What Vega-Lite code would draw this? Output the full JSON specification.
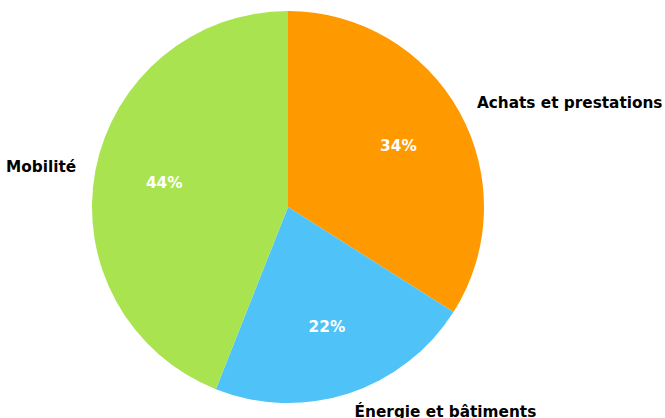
{
  "$schema": "https://vega.github.io/schema/vega-lite/v6.json",
  "autosize": {"type": "none"},
  "padding": {"left": 0, "top": 0, "right": 89, "bottom": 4},
  "width": 576,
  "height": 414,
  "data": {"values": [
    {"category": "Achats et prestations", "value": 34},
    {"category": "Énergie et bâtiments", "value": 22},
    {"category": "Mobilité", "value": 44}
  ]},
  "transform": [
    {"window": [{"op": "row_number", "as": "idx"}]},
    {"stack": "value", "groupby": [], "sort": [{"field": "idx", "order": "ascending"}], "as": ["v0", "v1"]},
    {"calculate": "(datum.v0 + datum.v1) / 2", "as": "mid"},
    {"calculate": "datum.value + '%'", "as": "pct"}
  ],
  "layer": [
    {
      "mark": {"type": "arc", "outerRadius": 196},
      "encoding": {
        "theta": {"field": "v0", "type": "quantitative", "scale": {"domain": [0, 100]}},
        "theta2": {"field": "v1"},
        "color": {
          "field": "category", "type": "nominal",
          "scale": {
            "domain": ["Achats et prestations", "Énergie et bâtiments", "Mobilité"],
            "range": ["#FF9900", "#4FC3F7", "#A9E350"]
          },
          "legend": null
        }
      }
    },
    {
      "mark": {"type": "text", "radius": 126, "font": "DejaVu Sans", "fontWeight": "bold", "fontSize": 15.3, "fill": "white", "align": "center", "baseline": "middle"},
      "encoding": {
        "theta": {"field": "mid", "type": "quantitative", "scale": {"domain": [0, 100]}},
        "text": {"field": "pct", "type": "nominal"}
      }
    },
    {
      "transform": [{"filter": "datum.category !== 'Mobilité'"}],
      "mark": {"type": "text", "radius": 215.6, "font": "DejaVu Sans", "fontWeight": "bold", "fontSize": 15.3, "fill": "black", "align": "left", "baseline": "middle"},
      "encoding": {
        "theta": {"field": "mid", "type": "quantitative", "scale": {"domain": [0, 100]}},
        "text": {"field": "category", "type": "nominal"}
      }
    },
    {
      "transform": [{"filter": "datum.category === 'Mobilité'"}],
      "mark": {"type": "text", "radius": 215.6, "font": "DejaVu Sans", "fontWeight": "bold", "fontSize": 15.3, "fill": "black", "align": "right", "baseline": "middle"},
      "encoding": {
        "theta": {"field": "mid", "type": "quantitative", "scale": {"domain": [0, 100]}},
        "text": {"field": "category", "type": "nominal"}
      }
    }
  ],
  "config": {"view": {"stroke": null}}
}
